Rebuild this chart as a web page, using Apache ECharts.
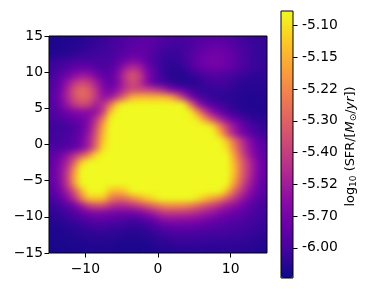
<!DOCTYPE html>
<html>
<head>
<meta charset="utf-8">
<script src="https://cdn.jsdelivr.net/npm/echarts@6/dist/echarts.min.js"></script>
<style>
html,body{margin:0;padding:0;background:#fff;}
#wrap{position:relative;width:371px;height:289px;overflow:hidden;}
#clip{position:absolute;left:49px;top:36px;width:218px;height:217px;overflow:hidden;}
#hmSharp,#hmBlur{position:absolute;left:0;top:0;width:218px;height:217px;}
#hmBlur{filter:blur(3px);}
#chart{position:absolute;left:0;top:0;width:371px;height:289px;}
</style>
</head>
<body>
<div id="wrap">
  <div id="clip"><div id="hmSharp"></div><div id="hmBlur"></div></div>
  <div id="chart"></div>
</div>
<script>
// cell centres, x left->right, y top->bottom for the rows below
const xCenters = [-14.5,-13.5,-12.5,-11.5,-10.5,-9.5,-8.5,-7.5,-6.5,-5.5,-4.5,-3.5,-2.5,-1.5,-0.5,0.5,1.5,2.5,3.5,4.5,5.5,6.5,7.5,8.5,9.5,10.5,11.5,12.5,13.5,14.5];
const yCentersTopDown = [14.5,13.5,12.5,11.5,10.5,9.5,8.5,7.5,6.5,5.5,4.5,3.5,2.5,1.5,0.5,-0.5,-1.5,-2.5,-3.5,-4.5,-5.5,-6.5,-7.5,-8.5,-9.5,-10.5,-11.5,-12.5,-13.5,-14.5];
// SFR in units of 1e-6 Msun/yr, one row per y centre (top row first); saturated cells read as >= colour-bar top
const sfrRows = [
[0.3,0.33,0.37,0.4,0.48,0.55,0.65,0.75,0.9,1.05,1.2,1.35,1.4,1.4,1.35,1.2,1.1,1.05,1.05,1.1,1.2,1.3,1.35,1.35,1.3,1.1,0.95,0.8,0.75,0.7],
[0.33,0.37,0.4,0.45,0.52,0.63,0.75,0.82,0.95,1.1,1.25,1.4,1.5,1.5,1.35,1.1,0.95,0.9,0.95,1.1,1.35,1.5,1.65,1.65,1.5,1.35,1.1,0.9,0.75,0.7],
[0.37,0.4,0.48,0.6,0.7,0.82,0.9,0.95,1.05,1.2,1.4,1.6,1.65,1.5,1.2,0.9,0.75,0.75,0.9,1.2,1.5,1.75,1.9,1.9,1.75,1.5,1.2,0.95,0.75,0.7],
[0.7,0.82,0.95,1.1,1.15,1.1,1.05,1.05,1.1,1.45,1.9,2.3,2.1,1.5,1.1,0.8,0.65,0.65,0.9,1.3,1.65,1.9,2.0,2.0,1.8,1.5,1.2,0.95,0.75,0.7],
[0.85,1.05,1.3,1.6,1.75,1.7,1.45,1.1,1.3,1.9,3.0,3.6,3.2,2.1,1.4,0.8,0.6,0.5,0.65,1.05,1.45,1.65,1.8,1.8,1.65,1.45,1.1,0.9,0.75,0.7],
[1.0,1.4,1.9,2.4,2.9,2.8,2.1,1.6,1.5,2.3,3.8,4.8,4.0,2.5,1.5,0.9,0.55,0.45,0.45,0.6,0.8,1.05,1.2,1.2,1.1,1.0,0.8,0.65,0.6,0.6],
[1.2,1.7,2.7,3.7,4.3,4.0,3.1,2.0,1.6,2.2,3.5,4.3,3.8,2.4,1.5,1.1,0.8,0.6,0.45,0.45,0.6,0.8,1.0,1.0,0.9,0.75,0.6,0.5,0.5,0.5],
[1.3,1.9,3.1,4.6,5.3,4.9,3.7,2.4,2.0,2.7,3.7,4.3,4.2,4.2,3.9,3.4,2.6,2.0,1.6,1.1,0.8,0.65,0.65,0.75,0.7,0.6,0.5,0.45,0.45,0.5],
[1.4,2.0,3.2,4.5,5.2,4.9,3.8,2.7,2.9,4.0,5.5,7.0,7.2,7.2,7.2,7.2,7.0,5.8,3.8,2.2,1.3,0.95,0.7,0.6,0.55,0.5,0.42,0.4,0.4,0.42],
[1.25,1.8,2.8,3.8,4.3,4.1,3.1,3.6,5.5,7.8,9,9,9,9,9,9,9,9,8.5,5.6,3.0,1.8,1.3,1.0,0.75,0.55,0.42,0.4,0.4,0.4],
[1.2,1.5,1.85,2.2,2.4,2.4,2.6,4.0,7.3,9,9,9,9,9,9,9,9,9,9,8.2,6.0,3.9,2.5,1.7,1.15,0.8,0.55,0.42,0.4,0.4],
[1.05,1.2,1.45,1.7,1.9,2.3,3.6,5.8,8.3,9,9,9,9,9,9,9,9,9,9,9,8.0,6.3,4.6,3.3,2.3,1.7,1.15,0.8,0.6,0.55],
[0.85,0.9,1.0,1.2,1.6,2.5,4.2,6.8,9,9,9,9,9,9,9,9,9,9,9,9,9,9,8.0,5.9,4.1,2.8,1.9,1.3,0.95,0.7],
[0.9,0.95,1.05,1.3,1.8,2.8,4.7,7.2,9,9,9,9,9,9,9,9,9,9,9,9,9,9,9,7.2,4.7,3.1,2.1,1.5,1.1,0.85],
[1.0,1.0,1.15,1.45,2.0,3.1,5.0,7.5,9,9,9,9,9,9,9,9,9,9,9,9,9,9,9,8.5,7.3,5.4,3.8,2.6,1.7,1.25],
[1.1,1.15,1.3,1.55,2.1,3.2,5.3,7.9,9,9,9,9,9,9,9,9,9,9,9,9,9,9,9,9,7.9,5.9,4.1,2.8,1.9,1.4],
[1.5,1.9,2.6,3.6,4.6,6.0,7.9,9,9,9,9,9,9,9,9,9,9,9,9,9,9,9,9,9,8.5,6.6,4.6,3.1,2.1,1.5],
[1.5,2.2,3.2,5.0,7.6,8.5,9,9,9,9,9,9,9,9,9,9,9,9,9,9,9,9,9,9,9,7.1,5.2,3.7,2.5,1.65],
[1.6,2.4,3.7,6.2,9,9,9,9,9,9,9,9,9,9,9,9,9,9,9,9,9,9,9,9,9,7.3,5.2,3.8,2.5,1.7],
[1.6,2.4,3.9,6.7,9,9,9,9,9,9,9,9,9,9,9,9,9,9,9,9,9,9,9,9,9,7.1,5.1,3.6,2.4,1.6],
[1.5,2.3,3.7,6.3,9,9,9,9,9,9,9,9,9,9,9,9,9,9,9,9,9,9,9,9,8.5,6.5,4.6,3.2,2.2,1.5],
[1.35,1.95,3.0,4.6,6.8,8.8,9,8.5,7.2,7.0,7.5,9,9,9,9,9,9,9,9,9,9,9,9,9,7.1,5.2,3.8,2.7,1.9,1.4],
[1.05,1.5,2.3,3.5,5.7,7.3,7.4,7.3,5.7,5.2,5.4,6.0,6.8,7.4,8.0,8.5,8.5,8.5,8.5,8.5,8.0,7.3,6.6,5.9,4.8,3.8,2.9,2.1,1.55,1.2],
[0.75,1.0,1.35,1.9,2.8,3.9,4.3,4.2,3.6,3.3,3.3,3.6,4.0,4.6,5.2,5.7,6.0,6.0,5.9,5.6,5.1,4.5,4.0,3.4,2.9,2.5,2.0,1.55,1.2,1.0],
[0.6,0.75,1.0,1.25,1.6,1.95,2.15,2.15,2.0,1.9,1.9,1.9,2.1,2.5,3.0,3.6,3.8,3.8,3.7,3.6,3.3,3.0,2.7,2.3,2.0,1.75,1.5,1.25,1.05,0.9],
[0.45,0.52,0.65,0.8,1.05,1.3,1.45,1.45,1.35,1.25,1.15,1.0,1.1,1.35,1.7,2.2,2.4,2.4,2.4,2.3,2.2,2.0,1.8,1.6,1.45,1.35,1.2,1.05,0.9,0.8],
[0.35,0.38,0.45,0.55,0.67,0.8,0.9,0.9,0.85,0.78,0.7,0.6,0.63,0.75,0.97,1.3,1.45,1.55,1.55,1.55,1.45,1.35,1.28,1.2,1.12,1.08,1.0,0.9,0.8,0.7],
[0.3,0.32,0.35,0.42,0.5,0.56,0.6,0.6,0.56,0.52,0.48,0.45,0.48,0.56,0.68,0.85,0.95,1.05,1.05,1.05,1.0,0.97,0.93,0.9,0.9,0.86,0.82,0.75,0.67,0.6],
[0.27,0.28,0.3,0.34,0.38,0.42,0.45,0.45,0.42,0.38,0.34,0.34,0.34,0.38,0.45,0.56,0.64,0.7,0.75,0.75,0.75,0.72,0.72,0.68,0.68,0.68,0.64,0.6,0.52,0.45],
[0.23,0.24,0.26,0.28,0.3,0.32,0.34,0.34,0.32,0.3,0.28,0.27,0.27,0.3,0.34,0.42,0.45,0.5,0.52,0.54,0.54,0.52,0.52,0.52,0.52,0.52,0.5,0.45,0.42,0.38]
];
const xTicks = [-10, 0, 10];
const yTicks = [-15, -10, -5, 0, 5, 10, 15];
const cbTicks = [1, 2, 3, 4, 5, 6, 7, 8];
const cbLabels = ['-6.00', '-5.70', '-5.52', '-5.40', '-5.30', '-5.22', '-5.15', '-5.10'];
const cbTitle = 'log{sub|10} (SFR/[{it|M}{sub|\u2299}/{it|yr}])';
const cbMin = 0.05, cbMax = 8.46;
const plasma = ['#0d0887','#41049d','#6a00a8','#8f0da4','#b12a90','#cc4778','#e16462','#f2844b','#fca636','#fcce25','#f0f921'];

const yCentersBottomUp = yCentersTopDown.slice().reverse();
const heatData = [];
sfrRows.forEach((row, j) => {
  row.forEach((v, i) => {
    heatData.push([i, yCentersTopDown.length - 1 - j, v]);
  });
});

function heatOption() {
  return {
    animation: false,
    backgroundColor: 'transparent',
    grid: { left: 0, top: 0, right: 0, bottom: 0 },
    xAxis: { type: 'category', data: xCenters, show: false },
    yAxis: { type: 'category', data: yCentersBottomUp, show: false },
    visualMap: { type: 'continuous', show: false, min: cbMin, max: cbMax, inRange: { color: plasma } },
    series: [{ type: 'heatmap', data: heatData, itemStyle: { borderWidth: 0 }, emphasis: { disabled: true } }]
  };
}
echarts.init(document.getElementById('hmSharp'), null, { renderer: 'canvas' }).setOption(heatOption());
echarts.init(document.getElementById('hmBlur'), null, { renderer: 'canvas' }).setOption(heatOption());

const FONT = 'DejaVu Sans';
const FS = 13.9;
const TFS = 12.9;
const fmtMinus = v => (v < 0 ? '\u2212' + (-v) : String(v));
const plot = { left: 49, top: 36, width: 218, height: 217 };
const cb = { left: 281, top: 11, width: 12, height: 267 };

const chart = echarts.init(document.getElementById('chart'), null, { renderer: 'canvas' });
chart.setOption({
  backgroundColor: 'transparent',
  animation: false,
  grid: [
    Object.assign({ show: true, z: 10, borderColor: '#000', borderWidth: 1, backgroundColor: 'transparent' }, plot),
    Object.assign({ show: true, z: 10, borderColor: '#000', borderWidth: 1, backgroundColor: 'transparent' }, cb)
  ],
  xAxis: [
    { gridIndex: 0, type: 'value', min: -15, max: 15, z: 10, position: 'bottom',
      axisLine: { show: false, onZero: false }, splitLine: { show: false },
      axisTick: { show: true, customValues: xTicks, length: 4.5, lineStyle: { color: '#000', width: 1 } },
      axisLabel: { show: true, customValues: xTicks, formatter: fmtMinus, margin: 9, color: '#000', fontFamily: FONT, fontSize: FS } },
    { gridIndex: 1, type: 'value', min: 0, max: 1, show: false }
  ],
  yAxis: [
    { gridIndex: 0, type: 'value', min: -15, max: 15, interval: 5, z: 10, position: 'left',
      axisLine: { show: false, onZero: false }, splitLine: { show: false },
      axisTick: { show: true, customValues: yTicks, length: 4.5, lineStyle: { color: '#000', width: 1 } },
      axisLabel: { show: true, customValues: yTicks, formatter: fmtMinus, margin: 6, color: '#000', fontFamily: FONT, fontSize: FS } },
    { gridIndex: 1, type: 'value', min: cbMin, max: cbMax, position: 'right', z: 10,
      axisLine: { show: false, onZero: false }, splitLine: { show: false },
      axisTick: { show: true, customValues: cbTicks, length: 4.5, lineStyle: { color: '#000', width: 1 } },
      axisLabel: { show: true, customValues: cbTicks, margin: 9, color: '#000', fontFamily: FONT, fontSize: FS,
        formatter: v => { const k = cbTicks.indexOf(Math.round(v)); return k >= 0 ? cbLabels[k] : ''; } } }
  ],
  graphic: [{
    type: 'text', x: 351, y: 146.5, rotation: Math.PI / 2, z: 20,
    style: {
      text: cbTitle, fill: '#000', fontFamily: FONT, fontSize: TFS, align: 'center', verticalAlign: 'middle',
      rich: {
        sub: { fontSize: 9, fontFamily: FONT, fill: '#000', verticalAlign: 'bottom', padding: [6, 0, 0, 0] },
        it: { fontSize: TFS, fontFamily: FONT, fontStyle: 'italic', fill: '#000' }
      }
    }
  }],
  visualMap: {
    type: 'continuous', seriesIndex: 0, min: cbMin, max: cbMax,
    orient: 'vertical', left: cb.left, top: cb.top, itemWidth: cb.width, itemHeight: cb.height,
    padding: 0, calculable: false, hoverLink: false, text: null, showLabel: false,
    inRange: { color: plasma }
  },
  series: [
    { type: 'line', xAxisIndex: 0, yAxisIndex: 0, data: [], silent: true },
    { type: 'line', xAxisIndex: 1, yAxisIndex: 1, data: [], silent: true }
  ]
});
</script>
</body>
</html>
